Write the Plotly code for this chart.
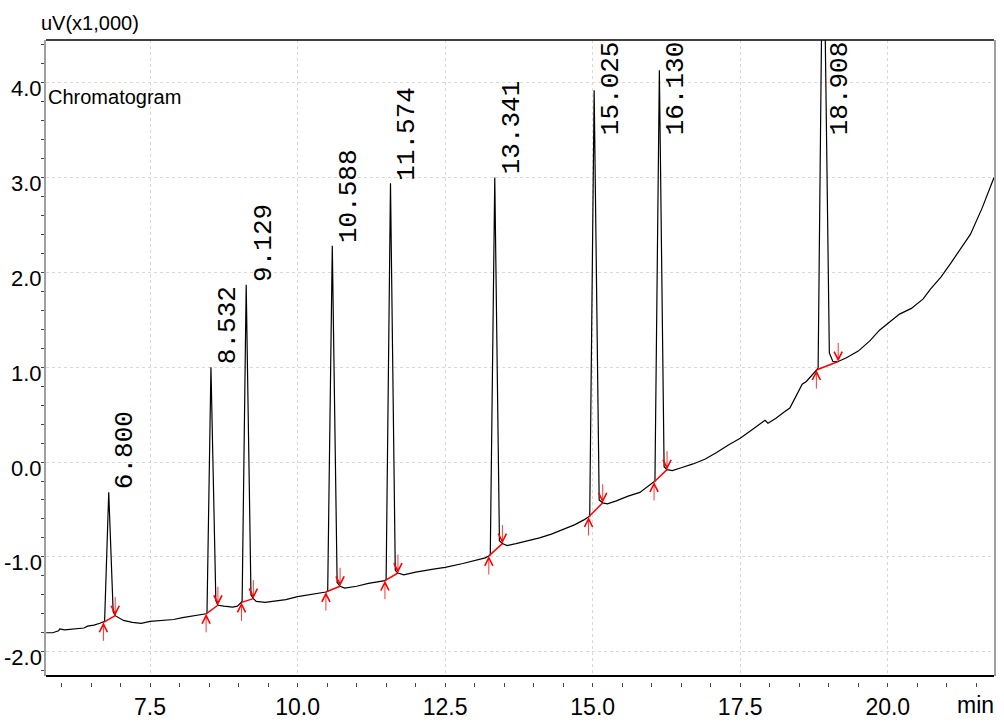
import plotly.graph_objects as go

# ---- data (x1,000 uV vs minutes) ----
TRACE_POINTS = [
    (5.74, -1.80), (5.85, -1.80), (5.95, -1.78), (5.97, -1.76), (6.05, -1.77), (6.20, -1.76),
    (6.38, -1.75), (6.44, -1.73), (6.55, -1.72), (6.65, -1.70),
    (6.71, -1.69), (6.73, -1.68), (6.80, -0.32), (6.875, -1.58), (6.91, -1.62),
    (6.96, -1.64), (7.05, -1.67), (7.20, -1.69), (7.35, -1.70), (7.50, -1.68), (7.70, -1.67),
    (7.90, -1.66), (8.05, -1.64), (8.25, -1.62), (8.40, -1.61),
    (8.45, -1.60), (8.465, -1.59), (8.532, 1.00), (8.615, -1.46), (8.65, -1.51),
    (8.75, -1.52), (8.90, -1.53), (8.98, -1.52),
    (9.05, -1.48), (9.06, -1.47), (9.129, 1.87), (9.21, -1.40), (9.25, -1.44),
    (9.30, -1.47), (9.45, -1.48), (9.60, -1.47), (9.80, -1.45), (10.00, -1.42), (10.20, -1.40),
    (10.40, -1.38),
    (10.48, -1.37), (10.51, -1.36), (10.588, 2.28), (10.67, -1.27), (10.72, -1.31),
    (10.80, -1.33), (11.00, -1.31), (11.20, -1.28), (11.40, -1.26),
    (11.48, -1.25), (11.50, -1.24), (11.574, 2.94), (11.655, -1.14), (11.70, -1.17),
    (11.80, -1.19), (12.00, -1.16), (12.30, -1.13), (12.50, -1.11), (12.80, -1.07),
    (13.00, -1.04), (13.18, -1.01),
    (13.24, -0.99), (13.265, -0.98), (13.341, 3.00), (13.42, -0.83), (13.47, -0.86),
    (13.55, -0.88), (13.70, -0.86), (13.90, -0.83), (14.10, -0.80), (14.30, -0.76),
    (14.50, -0.71), (14.70, -0.66), (14.85, -0.61),
    (14.93, -0.58), (14.95, -0.57), (15.025, 3.92), (15.11, -0.40), (15.17, -0.43),
    (15.25, -0.44), (15.40, -0.41), (15.60, -0.36), (15.80, -0.32), (15.95, -0.25),
    (16.04, -0.21), (16.055, -0.20), (16.130, 4.13), (16.21, -0.05), (16.26, -0.08),
    (16.35, -0.09), (16.50, -0.06), (16.70, -0.02), (16.90, 0.03), (17.10, 0.10),
    (17.30, 0.18), (17.50, 0.25), (17.70, 0.34), (17.85, 0.41), (17.92, 0.44), (17.97, 0.41),
    (18.10, 0.46), (18.25, 0.53), (18.34, 0.57), (18.45, 0.70), (18.55, 0.82), (18.62, 0.85),
    (18.70, 0.91),
    (18.79, 0.97), (18.82, 0.99), (18.905, 6.20), (19.01, 1.15), (19.07, 1.06), (19.16, 1.06),
    (19.30, 1.10), (19.50, 1.17), (19.70, 1.28), (19.86, 1.39), (20.00, 1.46), (20.20, 1.56),
    (20.40, 1.62), (20.60, 1.72), (20.72, 1.82), (20.90, 1.95), (21.06, 2.09), (21.25, 2.27),
    (21.40, 2.40), (21.60, 2.68), (21.80, 3.00),
]
TIME = [p[0] for p in TRACE_POINTS]
SIGNAL = [p[1] for p in TRACE_POINTS]

PEAK_RT = [6.800, 8.532, 9.129, 10.588, 11.574, 13.341, 15.025, 16.130, 18.908]
PEAK_LABELS = ["6.800", "8.532", "9.129", "10.588", "11.574", "13.341", "15.025", "16.130", "18.908"]
PEAK_APEX = [-0.32, 1.00, 1.87, 2.28, 2.94, 3.00, 3.92, 4.13, 6.20]

START_T = [6.71, 8.45, 9.05, 10.48, 11.48, 13.24, 14.93, 16.04, 18.79]
START_V = [-1.69, -1.60, -1.48, -1.37, -1.25, -0.99, -0.58, -0.21, 0.97]
END_T = [6.91, 8.65, 9.25, 10.72, 11.70, 13.47, 15.17, 16.26, 19.16]
END_V = [-1.62, -1.51, -1.44, -1.31, -1.17, -0.86, -0.43, -0.08, 1.06]

X_RANGE = [5.737, 21.80]
Y_RANGE = [-2.256, 4.450]
Y_TICKS = [-2.0, -1.0, 0.0, 1.0, 2.0, 3.0, 4.0]
Y_TICKTEXT = ["-2.0", "-1.0", "0.0", "1.0", "2.0", "3.0", "4.0"]

Y_TITLE = "uV(x1,000)"
X_UNIT = "min"
PLOT_NAME = "Chromatogram"

# ---- styles ----
SANS = "Liberation Sans, Arial, sans-serif"
LABEL_FONT = "Liberation Mono, DejaVu Sans Mono, monospace"
GRID = "#d9d9d9"

fig = go.Figure()

fig.add_trace(go.Scatter(
    x=TIME, y=SIGNAL, mode="lines",
    line=dict(color="black", width=1.2),
    hoverinfo="skip", showlegend=False,
))

# integration baselines (red)
bx, by = [], []
for ts, vs, te, ve in zip(START_T, START_V, END_T, END_V):
    bx += [ts, te, None]
    by += [vs, ve, None]
fig.add_trace(go.Scatter(
    x=bx, y=by, mode="lines",
    line=dict(color="#ff0000", width=1.5),
    hoverinfo="skip", showlegend=False,
))

annotations = []
# start / end arrows
for ts, vs in zip(START_T, START_V):
    annotations.append(dict(
        x=ts, y=vs, xref="x", yref="y", text="", showarrow=True,
        ax=0, ay=20, arrowhead=5, arrowsize=2, arrowwidth=0.8,
        arrowcolor="#ff0000", standoff=0,
    ))
for te, ve in zip(END_T, END_V):
    annotations.append(dict(
        x=te, y=ve, xref="x", yref="y", text="", showarrow=True,
        ax=0, ay=-20, arrowhead=5, arrowsize=2, arrowwidth=0.8,
        arrowcolor="#ff0000", standoff=0,
    ))

# retention time labels
for rt, lab, apex in zip(PEAK_RT, PEAK_LABELS, PEAK_APEX):
    if apex > 3.35:
        y, yanchor, yshift = Y_RANGE[1], "top", 0
    else:
        y, yanchor, yshift = apex, "bottom", 2
    annotations.append(dict(
        x=rt, y=y, xref="x", yref="y", text=lab, showarrow=False,
        textangle=-90, xanchor="left", yanchor=yanchor, xshift=1, yshift=yshift,
        font=dict(family=LABEL_FONT, size=26, color="black"),
        borderpad=0,
    ))

# y tick labels (sit slightly below their tick, as in the reference)
for v, txt in zip(Y_TICKS, Y_TICKTEXT):
    annotations.append(dict(
        x=0, y=v, xref="paper", yref="y", text=txt, showarrow=False,
        xanchor="right", yanchor="middle", xshift=-2, yshift=-6,
        font=dict(family=SANS, size=22, color="black"),
    ))

annotations.append(dict(
    x=0, y=1, xref="paper", yref="paper", text=Y_TITLE, showarrow=False,
    xanchor="left", yanchor="bottom", xshift=-7, yshift=4,
    font=dict(family=SANS, size=20, color="black"),
))
annotations.append(dict(
    x=0, y=1, xref="paper", yref="paper", text=PLOT_NAME, showarrow=False,
    xanchor="left", yanchor="top", xshift=0, yshift=-44,
    font=dict(family=SANS, size=20, color="black"),
))
annotations.append(dict(
    x=1, y=0, xref="paper", yref="paper", text=X_UNIT, showarrow=False,
    xanchor="right", yanchor="top", xshift=2, yshift=-8,
    font=dict(family=SANS, size=23, color="black"),
))

shapes = [
    dict(type="line", xref="x domain", yref="y domain", x0=0, x1=1, y0=1, y1=1,
         line=dict(color="black", width=1.5)),
    dict(type="line", xref="x domain", yref="y domain", x0=0, x1=1, y0=0, y1=0,
         line=dict(color="black", width=2)),
]

fig.update_layout(
    width=1004, height=722,
    margin=dict(l=46, r=10, t=40, b=40, autoexpand=False),
    paper_bgcolor="white", plot_bgcolor="white",
    showlegend=False,
    hovermode=False,
    annotations=annotations,
    shapes=shapes,
    xaxis=dict(
        range=X_RANGE, anchor="free", position=0, automargin=False,
        tick0=0, dtick=2.5, tickformat=".1f",
        ticks="outside", ticklen=4, tickwidth=1, tickcolor="#444",
        showline=False, zeroline=False,
        showgrid=True, gridcolor=GRID, griddash="dot", gridwidth=1,
        minor=dict(dtick=0.5, tick0=0, ticks="outside", ticklen=4, tickwidth=1,
                   tickcolor="#444", showgrid=False),
        tickfont=dict(family=SANS, size=23, color="black"),
    ),
    yaxis=dict(
        range=Y_RANGE, domain=[6 / 642, 1], anchor="x", automargin=False,
        tickmode="array", tickvals=Y_TICKS, showticklabels=False,
        ticks="outside", ticklen=3, tickwidth=1, tickcolor="#444",
        showline=True, linecolor="#a0a0a0", linewidth=2, mirror=True,
        zeroline=False,
        showgrid=True, gridcolor=GRID, griddash="dot", gridwidth=1,
        minor=dict(dtick=0.2, tick0=0, ticks="outside", ticklen=3, tickwidth=1,
                   tickcolor="#444", showgrid=False),
    ),
)

fig.write_html(
    "out.html",
    config={"displayModeBar": False, "staticPlot": True},
    post_script="document.body.style.margin='0';document.body.style.overflow='hidden';",
)
